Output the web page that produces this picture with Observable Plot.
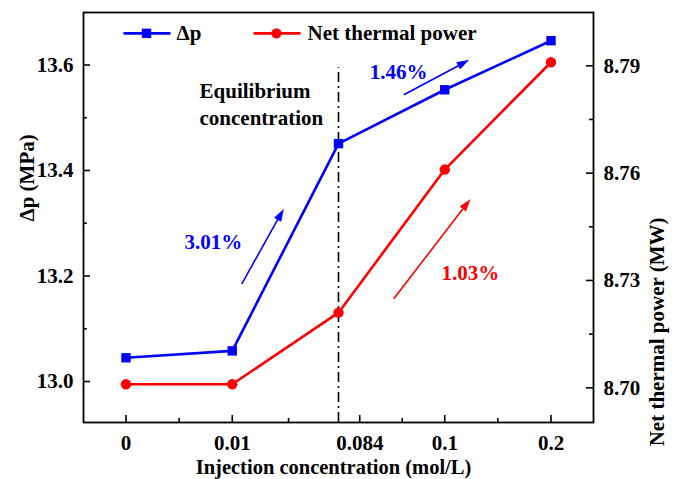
<!DOCTYPE html>
<html><head><meta charset="utf-8">
<script src="https://cdn.jsdelivr.net/npm/d3@7"></script>
<script src="https://cdn.jsdelivr.net/npm/@observablehq/plot@0.6"></script>
<style>
body{margin:0;background:#fff}
#chart{width:680px;height:479px}
#chart svg, #chart svg text, #chart svg tspan{font-family:"Liberation Serif","Times New Roman",serif !important;font-weight:bold !important;}
</style>
</head><body><div id="chart"></div>
<script>
// ---- data ----
const categories = ["0", "0.01", "0.084", "0.1", "0.2"];
const categoryIndex = [0, 1, 2, 3, 4];
const dp = [13.045, 13.058, 13.451, 13.553, 13.646];          // MPa (left axis)
const power = [8.701, 8.701, 8.721, 8.761, 8.791];            // MW (right axis)
const leftTicks = [13.0, 13.2, 13.4, 13.6];
const leftMinor = [13.1, 13.3, 13.5];
const rightTicks = [8.70, 8.73, 8.76, 8.79];
const rightMinor = [8.715, 8.745, 8.775];
const xTickPos = [0, 1, 2.2, 3, 4];
const xMinorPos = [0.5, 1.53, 2.6, 3.5];
const xDomain = [-0.4, 4.4];
const leftDomain = [12.9223, 13.6995];
const rightDomain = [8.6903, 8.8049];
const equilibriumIndex = 2;
const equilibriumTop = 13.595;
const arrowFrom = [[1.09, 13.185], [2.615, 13.5435], [2.52, 13.157]];
const arrowTo = [[1.479, 13.3255], [3.22, 13.6085], [3.235, 13.344]];
const pctLabels = ["3.01%", "1.46%", "1.03%"];
const pctPos = [[0.8235, 13.2635], [2.565, 13.586], [3.242, 13.2047]];
const noteLines = ["Equilibrium", "concentration"];
const notePos = [[0.692, 13.5498], [0.692, 13.499]];
const legendNames = ["Δp", "Net thermal power"];
const legendY = 13.66;
const legendLine = [[-0.0235, 0.419], [1.2, 1.642]];
const legendMarkX = [0.193, 1.416];
const legendTextX = [0.475, 1.708];

// ---- layout ----
const W = 680, H = 479, ML = 83, MR = 87, MT = 12, MB = 57;
const FW = W - ML - MR, FH = H - MT - MB;
const FONT = "'Liberation Serif', 'Times New Roman', serif";
const BLUE = "#0000ff", RED = "#ff0000";

const toLeft = v => leftDomain[0] + (v - rightDomain[0]) / (rightDomain[1] - rightDomain[0]) * (leftDomain[1] - leftDomain[0]);
const fromLeft = v => rightDomain[0] + (v - leftDomain[0]) / (leftDomain[1] - leftDomain[0]) * (rightDomain[1] - rightDomain[0]);

const xs = Plot.scale({x: {type: "linear", domain: xDomain, range: [ML, W - MR]}});
const ys = Plot.scale({y: {type: "linear", domain: leftDomain, range: [H - MB, MT]}});

// arrow heads as filled triangles (computed in pixel space, inverted back to data)
const arrowColors = [BLUE, BLUE, RED];
const shafts = arrowFrom.map((f, k) => ({k, x1: f[0], y1: f[1], x2: arrowTo[k][0], y2: arrowTo[k][1]}));
const heads = [];
shafts.forEach(a => {
  const p1 = [xs.apply(a.x1), ys.apply(a.y1)], p2 = [xs.apply(a.x2), ys.apply(a.y2)];
  const dx = p2[0] - p1[0], dy = p2[1] - p1[1], len = Math.hypot(dx, dy);
  const ux = dx / len, uy = dy / len, nx = -uy, ny = ux;
  const L = 11, hw = 3.6;
  const bx = p2[0] - L * ux, by = p2[1] - L * uy;
  [[p2[0], p2[1]], [bx + hw * nx, by + hw * ny], [bx - hw * nx, by - hw * ny], [p2[0], p2[1]]]
    .forEach(p => heads.push({k: a.k, x: xs.invert(p[0]), y: ys.invert(p[1])}));
  a.bx = xs.invert(bx); a.by = ys.invert(by);
});

const textOpts = {fontFamily: FONT, fontWeight: "bold", fontSize: 21};

const chart = Plot.plot({
  width: W, height: H,
  marginLeft: ML, marginRight: MR, marginTop: MT, marginBottom: MB,
  style: {fontFamily: FONT, fontWeight: "bold", fontSize: "21px", background: "#fff", color: "#000"},
  x: {type: "linear", domain: xDomain},
  y: {type: "linear", domain: leftDomain},
  marks: [
    // axes labels
    Plot.axisY(leftTicks, {anchor: "left", tickSize: 0, tickPadding: 10, label: null, tickFormat: d => d.toFixed(1), ...textOpts}),
    Plot.axisY(rightTicks.map(toLeft), {anchor: "right", tickSize: 0, tickPadding: 10, label: null, tickFormat: d => fromLeft(d).toFixed(2), ...textOpts}),
    Plot.axisX(xTickPos, {anchor: "bottom", tickSize: 0, tickPadding: 13, label: null, tickFormat: d => categories[xTickPos.indexOf(d)], ...textOpts}),
    // inward tick marks
    Plot.tickY(leftTicks, {y: d => d, insetRight: FW - 7, stroke: "black", strokeWidth: 1.6}),
    Plot.tickY(leftMinor, {y: d => d, insetRight: FW - 4, stroke: "black", strokeWidth: 1.6}),
    Plot.tickY(rightTicks.map(toLeft), {y: d => d, insetLeft: FW - 7, stroke: "black", strokeWidth: 1.6}),
    Plot.tickY(rightMinor.map(toLeft), {y: d => d, insetLeft: FW - 4, stroke: "black", strokeWidth: 1.6}),
    Plot.tickX(xTickPos, {x: d => d, insetTop: FH - 7, stroke: "black", strokeWidth: 1.6}),
    Plot.tickX(xMinorPos, {x: d => d, insetTop: FH - 4, stroke: "black", strokeWidth: 1.6}),
    // equilibrium line
    Plot.ruleX([equilibriumIndex], {x: d => d, y1: leftDomain[0], y2: equilibriumTop, stroke: "black", strokeWidth: 1.6, strokeDasharray: "10,4,2,4"}),
    // series
    Plot.line(categoryIndex, {x: i => i, y: i => toLeft(power[i]), stroke: RED, strokeWidth: 2.6}),
    Plot.dot(categoryIndex, {x: i => i, y: i => toLeft(power[i]), fill: RED, r: 5.2, symbol: "circle"}),
    Plot.line(categoryIndex, {x: i => i, y: i => dp[i], stroke: BLUE, strokeWidth: 2.6}),
    Plot.dot(categoryIndex, {x: i => i, y: i => dp[i], fill: BLUE, r: 5.3, symbol: "square"}),
    // arrows
    Plot.link(shafts, {x1: "x1", y1: "y1", x2: "bx", y2: "by", stroke: d => arrowColors[d.k], strokeWidth: 1.6}),
    Plot.line(heads, {x: "x", y: "y", z: "k", fill: d => arrowColors[d.k], stroke: d => arrowColors[d.k], strokeWidth: 0.8}),
    // annotations
    Plot.text(pctLabels, {x: (d, i) => pctPos[i][0], y: (d, i) => pctPos[i][1], text: d => d, fill: (d, i) => arrowColors[i], lineAnchor: "middle", ...textOpts}),
    Plot.text(noteLines, {x: (d, i) => notePos[i][0], y: (d, i) => notePos[i][1], text: d => d, textAnchor: "start", lineAnchor: "middle", fill: "black", ...textOpts}),
    // legend
    Plot.link(legendLine, {x1: d => d[0], x2: d => d[1], y1: legendY, y2: legendY, stroke: (d, i) => [BLUE, RED][i], strokeWidth: 2.6}),
    Plot.dot([legendMarkX[0]], {x: d => d, y: legendY, fill: BLUE, r: 5.3, symbol: "square"}),
    Plot.dot([legendMarkX[1]], {x: d => d, y: legendY, fill: RED, r: 5.2, symbol: "circle"}),
    Plot.text(legendNames, {x: (d, i) => legendTextX[i], y: legendY, text: d => d, textAnchor: "start", lineAnchor: "middle", fill: "black", ...textOpts}),
    // axis titles
    Plot.text(["Injection concentration (mol/L)"], {frameAnchor: "bottom", dx: -5, dy: 45, text: d => d, lineAnchor: "middle", fontFamily: FONT, fontWeight: "bold", fontSize: 20.5}),
    Plot.text(["Δp (MPa)"], {frameAnchor: "left", dx: -56, dy: 4, rotate: -90, text: d => d, lineAnchor: "middle", ...textOpts}),
    Plot.text(["Net thermal power (MW)"], {frameAnchor: "right", dx: 64, dy: 0, rotate: -90, text: d => d, lineAnchor: "middle", ...textOpts}),
    Plot.frame({stroke: "black", strokeWidth: 1.8})
  ]
});
document.getElementById("chart").appendChild(chart);
</script>
</body></html>
